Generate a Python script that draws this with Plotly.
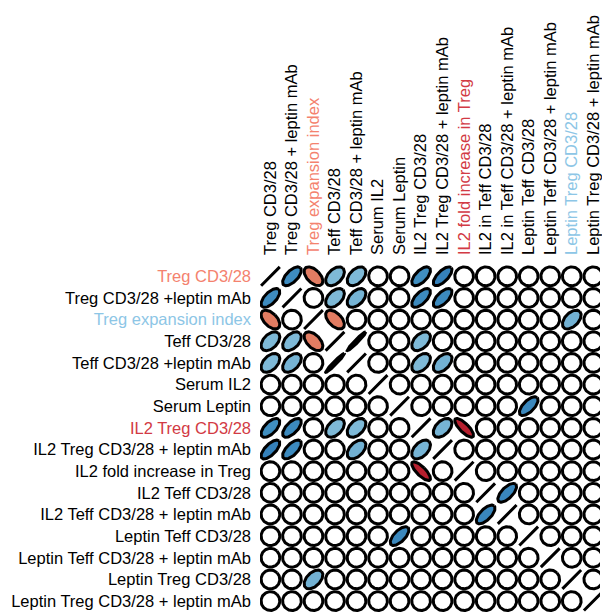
import numpy as np
import plotly.graph_objects as go

# Variable names (row labels on the left, column labels on top)
row_labels = [
    "Treg CD3/28", "Treg CD3/28 +leptin mAb", "Treg expansion index", "Teff CD3/28",
    "Teff CD3/28 +leptin mAb", "Serum IL2", "Serum Leptin", "IL2 Treg CD3/28",
    "IL2 Treg CD3/28 + leptin mAb", "IL2 fold increase in Treg", "IL2 Teff CD3/28",
    "IL2 Teff CD3/28 + leptin mAb", "Leptin Teff CD3/28", "Leptin Teff CD3/28 + leptin mAb",
    "Leptin Treg CD3/28", "Leptin Treg CD3/28 + leptin mAb",
]
col_labels = [
    "Treg CD3/28", "Treg CD3/28 + leptin mAb", "Treg expansion index", "Teff CD3/28",
    "Teff CD3/28 + leptin mAb", "Serum IL2", "Serum Leptin", "IL2 Treg CD3/28",
    "IL2 Treg CD3/28 + leptin mAb", "IL2 fold increase in Treg", "IL2 in Teff CD3/28",
    "IL2 in Teff CD3/28 + leptin mAb", "Leptin Teff CD3/28", "Leptin Teff CD3/28 + leptin mAb",
    "Leptin Treg CD3/28", "Leptin Treg CD3/28 + leptin mAb",
]
# highlighted label colours
row_label_colors = {0: "#F4826E", 2: "#8DC6E6", 7: "#D23A44"}
col_label_colors = {2: "#F4826E", 9: "#D23A44", 14: "#8DC6E6"}

# significant correlations (upper triangle); everything else is 0, diagonal is 1
pair_row = [0, 0, 0, 0, 0, 0, 1, 1, 1, 1, 2, 2, 3, 3, 4, 4, 6, 7, 7, 10]
pair_col = [1, 2, 3, 4, 7, 8, 3, 4, 7, 8, 3, 14, 4, 7, 7, 8, 12, 8, 9, 11]
pair_r = [0.63, -0.52, 0.45, 0.45, 0.62, 0.68, 0.45, 0.47, 0.64, 0.64,
          -0.52, 0.48, 0.97, 0.45, 0.45, 0.48, 0.65, 0.47, -0.78, 0.66]

n = len(row_labels)
corr = np.eye(n)
for i, j, r in zip(pair_row, pair_col, pair_r):
    corr[i, j] = r
    corr[j, i] = r

# diverging palette (red -> white -> blue)
ramp = ["#67001F", "#B2182B", "#D6604D", "#F4A582", "#FDDBC7", "#FFFFFF",
        "#D1E5F0", "#92C5DE", "#4393C3", "#2166AC", "#053061"]
ramp_rgb = np.array([[int(c[k:k + 2], 16) for k in (1, 3, 5)] for c in ramp], float)
ramp_pos = np.linspace(-1, 1, len(ramp))


def fill_color(r):
    rgb = [np.interp(r, ramp_pos, ramp_rgb[:, k]) for k in range(3)]
    return "rgb(%d,%d,%d)" % tuple(int(round(v)) for v in rgb)


def ellipse(r, scale=0.87, npts=99):
    k = np.linspace(0, 2 * np.pi, npts)
    d = np.arccos(np.clip(r, -1, 1))
    return scale * np.cos(k + d / 2) / 2, scale * np.cos(k - d / 2) / 2


fig = go.Figure()
for i in range(n):
    for j in range(n):
        r = corr[i, j]
        ex, ey = ellipse(r)
        fig.add_trace(go.Scatter(
            x=j + ex, y=i - ey, mode="lines", fill="toself",
            fillcolor=fill_color(r), line=dict(color="black", width=3),
            hoverinfo="skip", showlegend=False,
        ))


def colored(labels, colors):
    out = []
    for idx, lab in enumerate(labels):
        c = colors.get(idx, "black")
        out.append(f"<span style='color:{c}'>{lab}</span>")
    return out


W, H = 602, 616
ml, mt = 260, 265
cell = 21.65
x_lo = -(270.5 - ml) / cell
x_hi = x_lo + (W - ml) / cell
y_top = -(276.3 - mt) / cell
y_bot = y_top + (H - mt) / cell

fig.update_layout(
    width=W, height=H,
    margin=dict(l=ml, r=0, t=mt, b=0, pad=0),
    paper_bgcolor="white", plot_bgcolor="white",
    font=dict(family="Liberation Sans, Arial, sans-serif", size=16.5, color="black"),
    xaxis=dict(
        range=[x_lo, x_hi], side="top", tickangle=-90,
        tickvals=list(range(n)), ticktext=colored(col_labels, col_label_colors),
        showgrid=False, zeroline=False, showline=False, ticks="",
        ticklabelstandoff=9, ticklabeloverflow="allow", fixedrange=True,
    ),
    yaxis=dict(
        range=[y_bot, y_top],
        tickvals=list(range(n)), ticktext=colored(row_labels, row_label_colors),
        showgrid=False, zeroline=False, showline=False, ticks="",
        ticklabelstandoff=8, ticklabeloverflow="allow", fixedrange=True,
    ),
)

fig.write_html("out.html")
